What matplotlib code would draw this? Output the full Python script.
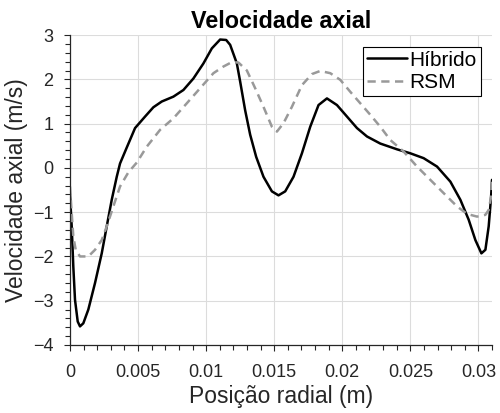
import matplotlib
matplotlib.use("Agg")
import matplotlib.pyplot as plt
from matplotlib.ticker import MultipleLocator

plt.rcParams['font.family'] = ['Liberation Sans', 'DejaVu Sans']

hib_x = [0.0, 0.000125, 0.000243, 0.000368, 0.000566, 0.000735, 0.000978, 0.001346,
         0.001838, 0.002331, 0.002699, 0.003066, 0.003434, 0.003676, 0.004169,
         0.004779, 0.005515, 0.006125, 0.006743, 0.007596, 0.008331, 0.009066,
         0.009801, 0.010419, 0.011029, 0.011471, 0.011765, 0.012257, 0.0125,
         0.012868, 0.013235, 0.013676, 0.014213, 0.014831, 0.015316, 0.015809,
         0.016419, 0.017037, 0.017647, 0.018257, 0.018875, 0.01961, 0.020346,
         0.021081, 0.021816, 0.022794, 0.024022, 0.025, 0.025978, 0.026963,
         0.027941, 0.028676, 0.029287, 0.029779, 0.030221, 0.030515, 0.030757,
         0.030934, 0.031]
hib_y = [-0.6, -1.32, -2.23, -2.98, -3.47, -3.58, -3.51, -3.2,
         -2.6, -1.93, -1.32, -0.72, -0.2, 0.1, 0.46,
         0.9, 1.16, 1.37, 1.5, 1.61, 1.76, 2.02,
         2.36, 2.7, 2.9, 2.89, 2.78, 2.36, 1.95,
         1.3, 0.75, 0.25, -0.2, -0.53, -0.62, -0.53,
         -0.2, 0.33, 0.93, 1.42, 1.57, 1.42, 1.16,
         0.9, 0.71, 0.55, 0.42, 0.33, 0.22, 0.03,
         -0.31, -0.72, -1.17, -1.63, -1.93, -1.85, -1.32,
         -0.65, -0.27]

rsm_x = [0.0, 0.000125, 0.000243, 0.000419, 0.000735, 0.001346, 0.001838, 0.002331,
         0.002699, 0.003184, 0.003676, 0.004287, 0.004904, 0.00564, 0.006618,
         0.007596, 0.008581, 0.009559, 0.010537, 0.011272, 0.01189, 0.012375,
         0.012993, 0.013603, 0.014213, 0.014831, 0.015199, 0.015684, 0.016301,
         0.017037, 0.017772, 0.018382, 0.019118, 0.019853, 0.020588, 0.021324,
         0.022059, 0.022794, 0.023529, 0.024507, 0.025493, 0.026471, 0.027449,
         0.028434, 0.02917, 0.029904, 0.030515, 0.030757, 0.030934, 0.031]
rsm_y = [-0.42, -1.02, -1.55, -1.85, -2.0, -2.0, -1.85, -1.63,
         -1.32, -0.87, -0.42, -0.1, 0.12, 0.48, 0.86,
         1.12, 1.46, 1.8, 2.14, 2.29, 2.39, 2.38,
         2.2, 1.8, 1.38, 0.93, 0.82, 1.01, 1.38,
         1.87, 2.12, 2.19, 2.14, 1.99, 1.72, 1.46,
         1.2, 0.93, 0.63, 0.37, 0.03, -0.27, -0.57,
         -0.87, -1.04, -1.1, -1.06, -0.95, -0.65, -0.27]

x_ticks = [0, 0.005, 0.01, 0.015, 0.02, 0.025, 0.03]
x_tick_labels = ['0', '0.005', '0.01', '0.015', '0.02', '0.025', '0.03']
y_ticks = [-4, -3, -2, -1, 0, 1, 2, 3]

fig = plt.figure(figsize=(5, 4.13), dpi=100)
ax = fig.add_axes([0.14, 0.1647, 0.844, 0.7503])
axc = '#262626'

ax.plot(hib_x, hib_y, color='black', lw=1.8, label='Híbrido',
        solid_joinstyle='round', solid_capstyle='round')
ax.plot(rsm_x, rsm_y, color='#999999', lw=1.8, ls=(0, (3.3, 2.2)), label='RSM',
        dash_joinstyle='round')

ax.set_xlim(0, 0.031)
ax.set_ylim(-4, 3)
ax.set_xticks(x_ticks)
ax.set_xticklabels(x_tick_labels)
ax.set_yticks(y_ticks)
ax.xaxis.set_minor_locator(MultipleLocator(0.001))
ax.yaxis.set_minor_locator(MultipleLocator(0.2))
ax.tick_params(which='both', direction='out', colors=axc, labelsize=13, top=False, right=False)
ax.tick_params(which='major', length=4, width=0.8)
ax.tick_params(which='minor', length=3.5, width=0.8)
ax.tick_params(axis='x', which='major', pad=9.5)
ax.tick_params(axis='y', which='major', pad=8)
ax.grid(True, which='major', color='#dcdcdc', lw=0.8)
ax.set_axisbelow(True)
for s in ['top', 'right']:
    ax.spines[s].set_visible(False)
for s in ['left', 'bottom']:
    ax.spines[s].set_color(axc)
    ax.spines[s].set_linewidth(0.9)

ax.set_xlabel('Posição radial (m)', fontsize=16.5, color=axc, labelpad=3)
ax.set_ylabel('Velocidade axial (m/s)', fontsize=16.5, color=axc, labelpad=3.5)
ax.set_title('Velocidade axial', fontsize=16.8, fontweight='bold', pad=5)

leg = ax.legend(loc='upper right', fontsize=15, frameon=True, fancybox=False,
                edgecolor='black', framealpha=1, handlelength=1.9,
                borderaxespad=0.55, borderpad=0.2, labelspacing=0.15, handletextpad=0.1)
leg.get_frame().set_linewidth(0.8)

fig.savefig('out.png', dpi=100)
